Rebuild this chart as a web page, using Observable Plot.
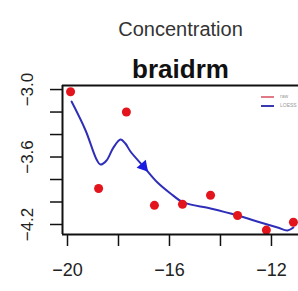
<!DOCTYPE html>
<html>
<head>
<meta charset="utf-8">
<script src="https://cdn.jsdelivr.net/npm/d3@7"></script>
<script src="https://cdn.jsdelivr.net/npm/@observablehq/plot@0.6"></script>
<style>
  html, body { margin: 0; padding: 0; background: #fff; overflow: hidden; }
  #wrap { position: relative; width: 298px; height: 291px; }
  #legend { position: absolute; left: 261px; top: 92px; font-family: "Liberation Sans", Arial, sans-serif; font-size: 5px; color: #999; line-height: 9px; }
  #legend .row { display: flex; align-items: center; height: 9px; }
  #legend .sw { width: 13px; height: 2px; margin-right: 6px; }
</style>
</head>
<body>
<div id="wrap"></div>
<script>
const titleText = "Concentration";
const subtitleText = "braidrm";

const pointX = [-19.88, -17.69, -18.78, -16.59, -15.49, -14.39, -13.33, -12.2, -11.14];
const pointY = [-3.02, -3.2, -3.88, -4.03, -4.02, -3.94, -4.12, -4.25, -4.18];

const loessX = [-19.84, -19.29, -18.86, -18.71, -18.47, -18.2, -17.92, -17.73, -17.53, -17.02, -16.47, -15.96, -15.45, -14.39, -13.33, -12.43, -11.76, -11.37, -11.14];
const loessY = [-3.107, -3.364, -3.622, -3.667, -3.631, -3.516, -3.444, -3.48, -3.551, -3.684, -3.827, -3.924, -4.004, -4.058, -4.12, -4.182, -4.227, -4.253, -4.227];

const arrowX = [-17.02];
const arrowY = [-3.684];

const xTicks = [-20, -18, -16, -14, -12];
const xLabels = [-20, -16, -12];
const yTicks = [-3.0, -3.2, -3.4, -3.6, -3.8, -4.0, -4.2];
const yLabels = [-3.0, -3.6, -4.2];

const legendLabels = ["raw", "LOESS"];
const legendColors = ["#e07a86", "#3a3ab0"];

const xDomain = [-20.196, -10.94];
const yDomain = [-4.289, -2.964];

const points = pointX.map((x, i) => ({x, y: pointY[i]}));
const loess = loessX.map((x, i) => ({x, y: loessY[i]}));
const arrow = arrowX.map((x, i) => ({x, y: arrowY[i]}));

const fmtX = d => String(d).replace("-", "\u2212");
const fmtY = d => d.toFixed(1).replace("-", "\u2212");

const chart = Plot.plot({
  width: 298,
  height: 291,
  marginLeft: 62,
  marginRight: 0,
  marginTop: 85,
  marginBottom: 57,
  style: {fontFamily: "'Liberation Sans', Arial, sans-serif", background: "#fff", color: "#111"},
  x: {domain: xDomain},
  y: {domain: yDomain},
  marks: [
    Plot.axisX(xTicks, {tickSize: 12, tickFormat: () => "", strokeWidth: 1.5, label: null}),
    Plot.axisY(yTicks, {tickSize: 12, tickFormat: () => "", strokeWidth: 1.5, label: null}),
    Plot.text(xLabels, {x: d => d, frameAnchor: "bottom", dy: 41, text: fmtX, fontSize: 18, fill: "#222"}),
    Plot.text(yLabels, {y: d => d, frameAnchor: "left", textAnchor: "middle", lineAnchor: "middle", dx: -35, rotate: -90, text: fmtY, fontSize: 17, fill: "#222"}),
    Plot.line(loess, {x: "x", y: "y", curve: "catmull-rom", stroke: "#2e2eb8", strokeWidth: 2}),
    Plot.dot(arrow, {x: "x", y: "y", symbol: "triangle", r: 4.5, fill: "#1a1ae0", rotate: 139}),
    Plot.dot(points, {x: "x", y: "y", r: 4.5, fill: "#e3141c"}),
    Plot.ruleY([yDomain[1]], {stroke: "#111", strokeWidth: 2}),
    Plot.ruleY([yDomain[0]], {stroke: "#111", strokeWidth: 2}),
    Plot.ruleX([xDomain[0]], {stroke: "#111", strokeWidth: 2}),
    Plot.text([titleText], {frameAnchor: "top", dy: -64, fontSize: 20, fill: "#333"}),
    Plot.text([subtitleText], {frameAnchor: "top", dy: -26, fontSize: 26, fontWeight: "bold", fill: "#111"})
  ]
});

const wrap = document.getElementById("wrap");
wrap.appendChild(chart);

const legend = document.createElement("div");
legend.id = "legend";
legendLabels.forEach((lab, i) => {
  const row = document.createElement("div");
  row.className = "row";
  const sw = document.createElement("span");
  sw.className = "sw";
  sw.style.background = legendColors[i];
  const t = document.createElement("span");
  t.textContent = lab;
  row.appendChild(sw);
  row.appendChild(t);
  legend.appendChild(row);
});
wrap.appendChild(legend);
</script>
</body>
</html>
